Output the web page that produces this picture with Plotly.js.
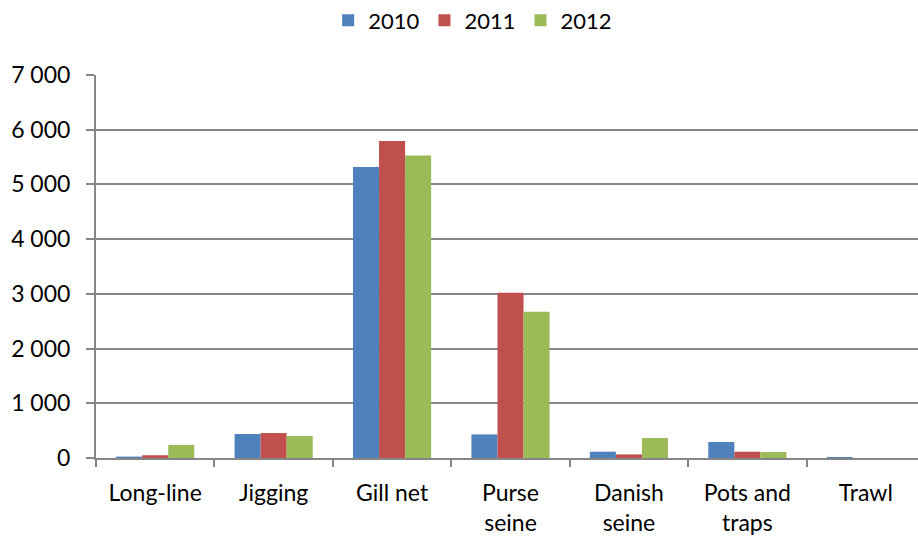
<!DOCTYPE html>
<html>
<head>
<meta charset="utf-8">
<script src="https://cdn.plot.ly/plotly-3.0.1.min.js"></script>
<style>html,body{margin:0;padding:0;overflow:hidden;background:#fff}</style>
</head>
<body>
<div id="chart" style="width:925px;height:538px"></div>
<script>
const categories = ["Long-line", "Jigging", "Gill net", "Purse<br>seine", "Danish<br>seine", "Pots and<br>traps", "Trawl"];
const values2010 = [25, 438, 5320, 431, 115, 292, 18];
const values2011 = [50, 456, 5795, 3019, 66, 115, 0];
const values2012 = [240, 402, 5530, 2672, 365, 110, 0];
const seriesNames = ["2010", "2011", "2012"];
const seriesColors = ["#4F81BD", "#C0504D", "#9BBB59"];

const allValues = [values2010, values2011, values2012];
const traces = allValues.map((v, i) => ({
  type: "bar",
  name: seriesNames[i],
  x: categories,
  y: v,
  marker: {color: seriesColors[i], line: {width: 0}}
}));

const layout = {
  width: 925,
  height: 538,
  margin: {l: 96, r: 0, t: 75, b: 79.5, autoexpand: false},
  paper_bgcolor: "#ffffff",
  plot_bgcolor: "#ffffff",
  font: {family: "Lato, 'Open Sans', sans-serif", size: 23, color: "#000"},
  separators: ". ",
  barmode: "group",
  bargap: 0.34,
  bargroupgap: 0,
  showlegend: true,
  legend: {orientation: "h", x: 0.511, xanchor: "center", xref: "container",
           y: 0.962, yanchor: "middle", yref: "container",
           font: {size: 22}, traceorder: "normal"},
  xaxis: {
    automargin: false,
    showgrid: false,
    showline: true, linecolor: "#868686", linewidth: 2,
    ticks: "outside", tickson: "boundaries", ticklen: 7, tickcolor: "#868686", tickwidth: 2,
    ticklabelstandoff: 13,
    tickfont: {size: 23}, fixedrange: true
  },
  yaxis: {
    automargin: false,
    range: [0, 7000],
    tickvals: [0, 1000, 2000, 3000, 4000, 5000, 6000, 7000],
    tickformat: ",d",
    showgrid: true, gridcolor: "#868686", gridwidth: 2,
    showline: true, linecolor: "#868686", linewidth: 2,
    ticks: "outside", ticklen: 8, tickcolor: "#868686", tickwidth: 2,
    ticklabelstandoff: 11,
    zeroline: false,
    tickfont: {size: 23}, fixedrange: true
  }
};

Plotly.newPlot("chart", traces, layout, {displayModeBar: false, staticPlot: true});
</script>
</body>
</html>
